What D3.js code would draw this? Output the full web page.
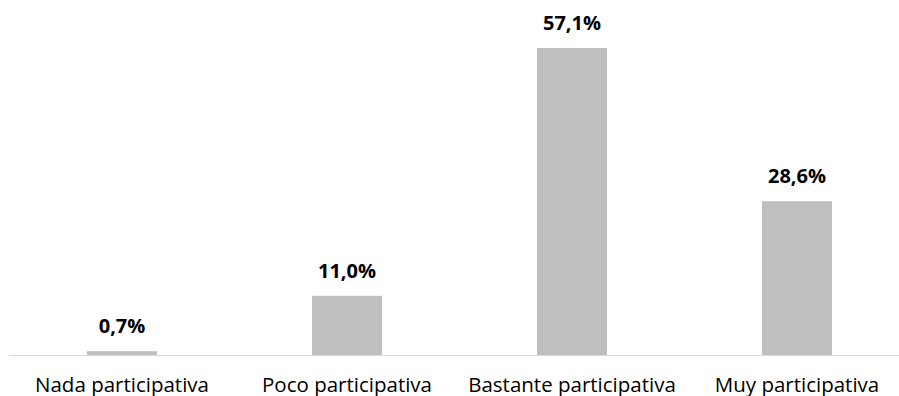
<!DOCTYPE html>
<html>
<head>
<meta charset="utf-8">
<script src="https://cdn.jsdelivr.net/npm/d3@7"></script>
<style>
  html, body { margin: 0; padding: 0; background: #fff; }
  svg { display: block; }
</style>
</head>
<body>
<svg id="chart" width="899" height="396"></svg>
<script>
// Categories and percentage values
const categories = ["Nada participativa", "Poco participativa", "Bastante participativa", "Muy participativa"];
const values = [0.7, 11.0, 57.1, 28.6];
const valueLabels = ["0,7%", "11,0%", "57,1%", "28,6%"];

const svg = d3.select("#chart");
const fontFamily = "'Open Sans', sans-serif";

const x = d3.scaleBand()
  .domain(categories)
  .range([9.5, 909.5])
  .paddingInner(0.689)
  .paddingOuter(0.3445);

const y = d3.scaleLinear()
  .domain([0, 60])
  .range([355, 32.4]);

// Bars
svg.selectAll("rect.bar")
  .data(categories)
  .join("rect")
  .attr("class", "bar")
  .attr("x", d => x(d))
  .attr("width", x.bandwidth())
  .attr("y", (d, i) => y(values[i]))
  .attr("height", (d, i) => y(0) - y(values[i]))
  .attr("fill", "#bfbfbf");

// Baseline
svg.append("line")
  .attr("x1", 9.5).attr("x2", 899)
  .attr("y1", y(0) + 0.5).attr("y2", y(0) + 0.5)
  .attr("stroke", "#d9d9d9")
  .attr("stroke-width", 1.2);

// Value labels
svg.selectAll("text.value")
  .data(categories)
  .join("text")
  .attr("class", "value")
  .attr("x", d => x(d) + x.bandwidth() / 2)
  .attr("y", (d, i) => y(values[i]) - 18)
  .attr("text-anchor", "middle")
  .attr("font-family", fontFamily)
  .attr("font-weight", "bold")
  .attr("font-size", 20)
  .attr("fill", "#000")
  .text((d, i) => valueLabels[i]);

// Category axis labels
const xAxis = d3.axisBottom(x).tickSize(0).tickPadding(0);
const gx = svg.append("g")
  .attr("transform", `translate(0, ${y(0)})`)
  .call(xAxis);
gx.select(".domain").remove();
gx.selectAll("text")
  .attr("dy", null)
  .attr("y", 37)
  .attr("font-family", fontFamily)
  .attr("font-size", 20.5)
  .attr("fill", "#000");
</script>
</body>
</html>
